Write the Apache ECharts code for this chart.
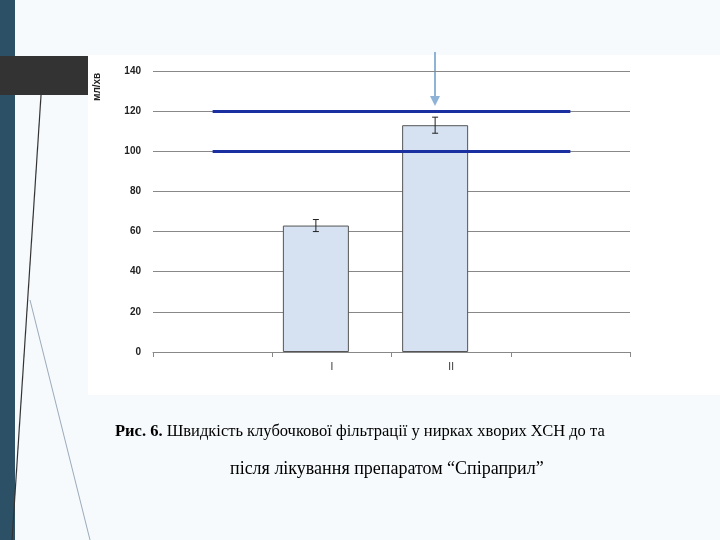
<!DOCTYPE html>
<html><head><meta charset="utf-8">
<script src="https://cdn.jsdelivr.net/npm/echarts@6/dist/echarts.min.js"></script>
<style>body{margin:0}#main{width:720px;height:540px}</style></head>
<body><div id="main"></div>
<script>
var categories = ['', 'I', 'II', ''];
var values = [null, 63, 113, null];
var errors = [null, 3, 4, null];
var normLow = 100, normHigh = 120;
var yTicks = [0, 140, 20];

var chart = echarts.init(document.getElementById('main'));
var option = {
  backgroundColor: '#ffffff',
  animation: false,
  graphic: [
    {type: 'rect', shape: {x: 0, y: 0, width: 15, height: 540}, style: {fill: '#2c5166'}, z: -10},
    {type: 'rect', shape: {x: 15, y: 0, width: 705, height: 540}, style: {fill: '#f6fafc'}, z: -10},
    {type: 'line', shape: {x1: 42, y1: 80, x2: 12, y2: 540}, style: {stroke: '#333', lineWidth: 1.2}, z: -9},
    {type: 'line', shape: {x1: 30, y1: 300, x2: 90, y2: 540}, style: {stroke: '#9ab', lineWidth: 1}, z: -9},
    {type: 'rect', shape: {x: 88, y: 55, width: 632, height: 340}, style: {fill: '#ffffff'}, z: -8},
    {type: 'rect', shape: {x: 0, y: 56, width: 88, height: 39}, style: {fill: '#333333'}, z: -7},
    {type: 'line', shape: {x1: 435, y1: 52, x2: 435, y2: 104}, style: {stroke: '#8fb3d6', lineWidth: 2}},
    {type: 'polygon', shape: {points: [[430, 96], [440, 96], [435, 106]]}, style: {fill: '#8fb3d6'}},
    {type: 'text', x: 92, y: 101, rotation: Math.PI / 2, style: {text: 'мл/хв', fill: '#222', font: 'bold 10px "Liberation Sans"'}},
    {type: 'text', left: 115, top: 423, style: {text: '{b|Рис. 6.} Швидкість клубочкової фільтрації у нирках хворих ХСН до та', fill: '#000', font: '16.5px "Liberation Serif"', rich: {b: {fontWeight: 'bold', fontSize: 16.5, fontFamily: 'Liberation Serif'}}}},
    {type: 'text', left: 230, top: 460, style: {text: 'після лікування препаратом “Спіраприл”', fill: '#000', font: '18px "Liberation Serif"'}}
  ],
  grid: {left: 153, right: 90, top: 71, bottom: 188},
  xAxis: {
    type: 'category', data: categories,
    axisLine: {lineStyle: {color: '#888'}}, axisTick: {show: true, lineStyle: {color: '#888'}},
    axisLabel: {color: '#333', fontSize: 10, margin: 10}
  },
  yAxis: {
    type: 'value', min: yTicks[0], max: yTicks[1], interval: yTicks[2],
    axisLine: {show: false}, axisTick: {show: false},
    axisLabel: {color: '#222', fontSize: 10, fontWeight: 'bold', margin: 12},
    splitLine: {lineStyle: {color: '#888'}}
  },
  series: [
    {
      type: 'bar', data: values, barWidth: 66, barGap: 0,
      itemStyle: {color: '#d6e2f2', borderColor: '#555', borderWidth: 1}
    },
    {type: 'bar', data: [null, null, null, null], barWidth: 32, barGap: 0},
    {
      type: 'custom',
      data: values.map(function (v, i) { return v == null ? null : [i, v - errors[i], v + errors[i]]; }).filter(Boolean),
      renderItem: function (params, api) {
        var lo = api.coord([api.value(0), api.value(1)]);
        var hi = api.coord([api.value(0), api.value(2)]);
        var s = {stroke: '#222', lineWidth: 1};
        return {type: 'group', x: -16, children: [
          {type: 'line', shape: {x1: lo[0], y1: lo[1], x2: hi[0], y2: hi[1]}, style: s},
          {type: 'line', shape: {x1: lo[0] - 3, y1: lo[1], x2: lo[0] + 3, y2: lo[1]}, style: s},
          {type: 'line', shape: {x1: hi[0] - 3, y1: hi[1], x2: hi[0] + 3, y2: hi[1]}, style: s}
        ]};
      },
      markLine: {
        symbol: 'none', silent: true, label: {show: false},
        lineStyle: {color: '#1a2fa0', width: 3, type: 'solid'},
        data: [
          [{coord: [0, normHigh]}, {coord: [3, normHigh]}],
          [{coord: [0, normLow]}, {coord: [3, normLow]}]
        ]
      },
      z: 5
    }
  ]
};
chart.setOption(option);
</script></body></html>
